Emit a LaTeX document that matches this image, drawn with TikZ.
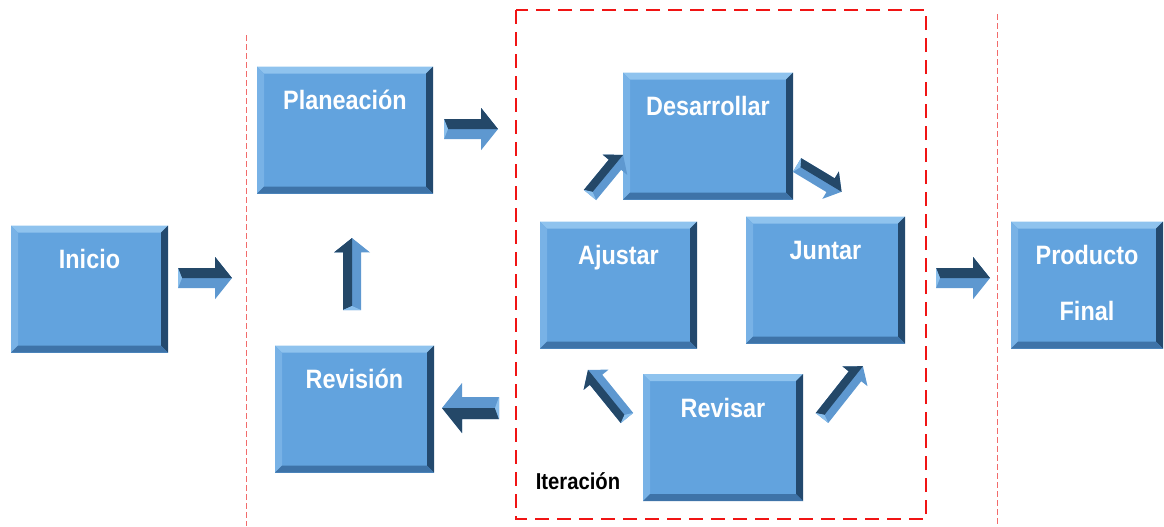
\documentclass[tikz,border=0pt]{standalone}
\usepackage{fontspec}
\newfontfamily\rotulo{Liberation Sans}[FakeStretch=0.88]

\definecolor{caja}{HTML}{62A3DE}
\definecolor{biselsup}{HTML}{8FC3EE}
\definecolor{biselizq}{HTML}{78B2E6}
\definecolor{biselder}{HTML}{23496E}
\definecolor{biselinf}{HTML}{3E73A8}
\definecolor{flechaoscura}{HTML}{244868}
\definecolor{flechaclara}{HTML}{5E98D0}
\definecolor{flechafaceta}{HTML}{8ABFEC}
\definecolor{rojo}{HTML}{F01414}
\definecolor{rosa}{HTML}{F26B6B}

\tikzset{
  pics/flecha/.style n args={3}{code={
    % #1 largo, #2 medio cuerpo, #3 media punta
    \fill[flechaclara] (0,-#2) -- ({#1-0.8*#3},-#2) -- ({#1-0.8*#3},-#3) -- (#1,0)
      -- ({#1-0.8*#3},#3) -- ({#1-0.8*#3},#2) -- (0,#2) -- cycle;
    \fill[flechaoscura] (0,-#2) -- ({#1-0.8*#3},-#2) -- ({#1-0.8*#3},-#3) -- (#1,0)
      -- ({#1-0.8*#3-3},0) -- (4,0) -- cycle;
    \fill[flechafaceta] (0,-#2) -- (4,0) -- (0,#2) -- cycle;
  }}
}

\begin{document}
\begin{tikzpicture}[x=0.5pt, y=-0.5pt,
  etapa/.style={minimum height=63.5pt, inner sep=0pt, fill=caja, text=white,
    font=\rotulo\bfseries\fontsize{13.3}{16}\selectfont,
    text height=9.5pt, text depth=30pt, align=center,
    path picture={
      \fill[biselsup] (path picture bounding box.north west) -- (path picture bounding box.north east)
        -- ([shift={(-7,7)}]path picture bounding box.north east) -- ([shift={(7,7)}]path picture bounding box.north west) -- cycle;
      \fill[biselizq] (path picture bounding box.north west) -- ([shift={(7,7)}]path picture bounding box.north west)
        -- ([shift={(7,-7)}]path picture bounding box.south west) -- (path picture bounding box.south west) -- cycle;
      \fill[biselder] (path picture bounding box.north east) -- (path picture bounding box.south east)
        -- ([shift={(-7,-7)}]path picture bounding box.south east) -- ([shift={(-7,7)}]path picture bounding box.north east) -- cycle;
      \fill[biselinf] (path picture bounding box.south west) -- (path picture bounding box.south east)
        -- ([shift={(-7,-7)}]path picture bounding box.south east) -- ([shift={(7,-7)}]path picture bounding box.south west) -- cycle;
    }},
  separador/.style={rosa, line width=0.5pt, dash pattern=on 3pt off 1.5pt},
  marco/.style={rojo, line width=1.2pt, dash pattern=on 7pt off 4pt}]

  \useasboundingbox (0,0) rectangle (1164,526);

  % separadores y marco de la iteracion
  \coordinate (sepA1) at (246,35);
  \coordinate (sepA2) at (246,526);
  \coordinate (sepB1) at (997,14);
  \coordinate (sepB2) at (997,526);
  \draw[separador] (sepA1) -- (sepA2);
  \draw[separador] (sepB1) -- (sepB2);
  \coordinate (iterNO) at (516,10);
  \coordinate (iterSE) at (926,519);
  \draw[marco] (iterNO) rectangle (iterSE);

  % etapas
  \node[etapa, minimum width=78.5pt] (inicio) at (89.5,289) {Inicio};
  \node[etapa, minimum width=88pt] (planeacion) at (345,130) {Planeación};
  \node[etapa, minimum width=79.5pt] (revision) at (354.5,409) {Revisión};
  \node[etapa, minimum width=85pt] (desarrollar) at (708,136) {Desarrollar};
  \node[etapa, minimum width=78.5pt] (ajustar) at (618.5,285) {Ajustar};
  \node[etapa, minimum width=79.5pt] (juntar) at (825.5,280) {Juntar};
  \node[etapa, minimum width=80pt] (revisar) at (723,437.5) {Revisar};
  \node[etapa, minimum width=76pt, text height=37.5pt, text depth=2.5pt,
    font=\rotulo\bfseries\fontsize{13.3}{28}\selectfont] (producto) at (1087,285) {Producto\\Final};
  \node[font=\rotulo\bfseries\fontsize{11.5}{14}\selectfont] (iteracion) at (578,481) {Iteración};

  % flechas
  \pic[rotate=0] (f-inicio) at (178,278) {flecha={54}{10}{21}};
  \pic[rotate=0] (f-plan) at (444,129) {flecha={54}{10}{21}};
  \pic[rotate=90] (f-rev) at (352,310) {flecha={72}{9}{18}};
  \pic[rotate=180] (f-iter) at (499,408) {flecha={57}{11}{25}};
  \pic[rotate=50.5] (f-ajus) at (590,195) {flecha={52}{8}{16}};
  \pic[rotate=-31] (f-desa) at (797,165) {flecha={52}{8}{16}};
  \pic[rotate=129] (f-revs) at (627,418) {flecha={62}{8}{16}};
  \pic[rotate=51.7] (f-junt) at (822,418) {flecha={66}{8}{16}};
  \pic[rotate=0] (f-prod) at (936,278) {flecha={54}{10}{21}};
\end{tikzpicture}
\end{document}
